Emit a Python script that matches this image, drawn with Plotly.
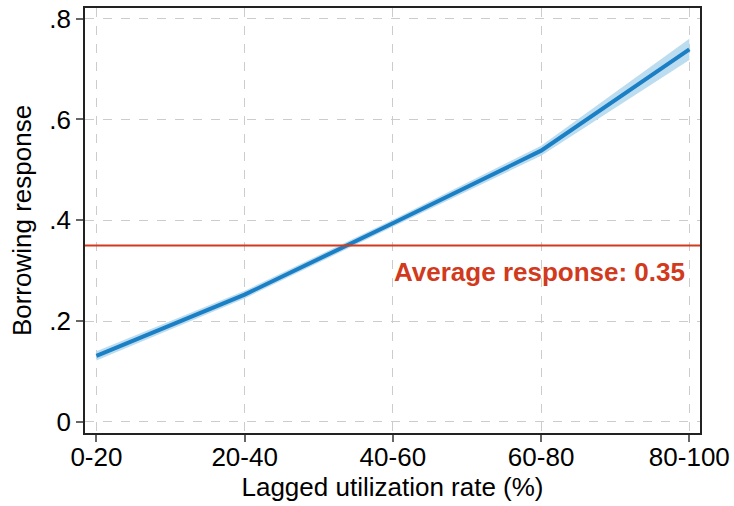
import plotly.graph_objects as go

categories = ["0-20", "20-40", "40-60", "60-80", "80-100"]
response = [0.131, 0.2525, 0.394, 0.538, 0.739]
ci_low = [0.122, 0.245, 0.387, 0.528, 0.718]
ci_high = [0.140, 0.260, 0.401, 0.548, 0.760]
avg_response = 0.35
y_ticks = [0, 0.2, 0.4, 0.6, 0.8]
y_tick_labels = ["0", ".2", ".4", ".6", ".8"]

FONT = "Liberation Sans, Arial, sans-serif"
BLUE = "#1a7fc4"
BAND = "#bcdcef"
RED = "#d13a1c"

fig = go.Figure()
fig.add_trace(go.Scatter(x=categories, y=ci_high, mode="lines", line=dict(width=0, color=BAND),
                         showlegend=False, hoverinfo="skip"))
fig.add_trace(go.Scatter(x=categories, y=ci_low, mode="lines", line=dict(width=0, color=BAND),
                         fill="tonexty", fillcolor=BAND, showlegend=False, hoverinfo="skip"))
fig.add_trace(go.Scatter(x=categories, y=response, mode="lines", line=dict(width=4, color=BLUE),
                         showlegend=False))
fig.add_hline(y=avg_response, line=dict(color=RED, width=2))
fig.add_annotation(x=0.979, xref="paper", y=0.298, yref="y", text="<b>Average response: %.2f</b>" % avg_response,
                   showarrow=False, xanchor="right", yanchor="middle",
                   font=dict(family=FONT, size=26, color=RED))

fig.update_layout(
    width=734, height=506,
    margin=dict(l=85, r=32, t=4, b=73),
    paper_bgcolor="white", plot_bgcolor="white",
    font=dict(family=FONT, size=26, color="black"),
)
fig.update_xaxes(
    type="category", range=[-0.077, 4.072],
    showgrid=True, gridcolor="#cccccc", griddash="dash", gridwidth=1,
    showline=True, linecolor="#222222", linewidth=1.5, mirror=True,
    ticks="outside", ticklen=7, tickcolor="#666666", tickwidth=1.5,
    tickfont=dict(size=26), ticklabelstandoff=-7,
    title=dict(text="Lagged utilization rate (%)", font=dict(size=26), standoff=2),
    zeroline=False,
)
fig.update_yaxes(
    range=[-0.022, 0.821],
    tickvals=y_ticks, ticktext=y_tick_labels,
    showgrid=True, gridcolor="#cccccc", griddash="dash", gridwidth=1,
    showline=True, linecolor="#222222", linewidth=1.5, mirror=True,
    ticks="outside", ticklen=7, tickcolor="#666666", tickwidth=1.5,
    tickfont=dict(size=26),
    title=dict(text="Borrowing response", font=dict(size=26), standoff=10),
    zeroline=False,
)
fig.write_html("out.html", config={"displayModeBar": False},
               post_script="document.body.style.margin='0';document.body.style.overflow='hidden';")
